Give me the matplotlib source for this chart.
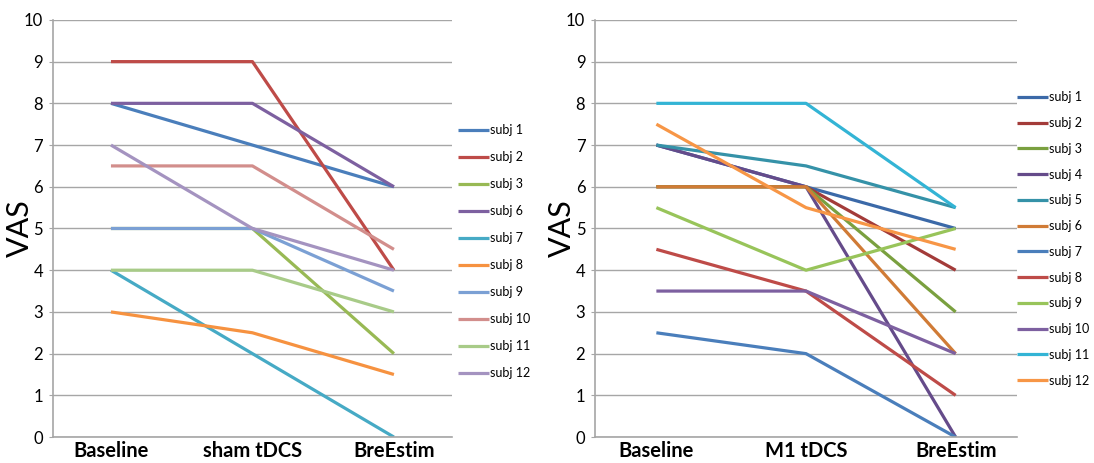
import numpy as np
import matplotlib
matplotlib.use("Agg")
import matplotlib.pyplot as plt

plt.rcParams["font.family"] = ["Lato", "DejaVu Sans"]

# ------
# Data
sham_sessions = ["Baseline", "sham tDCS", "BreEstim"]
sham_subjects = ["subj 1", "subj 2", "subj 3", "subj 6", "subj 7", "subj 8",
                 "subj 9", "subj 10", "subj 11", "subj 12"]
sham_vas = [
    [8, 7, 6],
    [9, 9, 4],
    [5, 5, 2],
    [8, 8, 6],
    [4, 2, 0],
    [3, 2.5, 1.5],
    [5, 5, 3.5],
    [6.5, 6.5, 4.5],
    [4, 4, 3],
    [7, 5, 4],
]
sham_colors = ["#4A7EBB", "#BE4B48", "#98B954", "#7D60A0", "#46AAC5", "#F69240",
               "#7BA0D4", "#D28E8C", "#A8CB88", "#A493C0"]

m1_sessions = ["Baseline", "M1 tDCS", "BreEstim"]
m1_subjects = ["subj %d" % i for i in range(1, 13)]
m1_vas = [
    [7, 6, 5],
    [6, 6, 4],
    [6, 6, 3],
    [7, 6, 0],
    [7, 6.5, 5.5],
    [6, 6, 2],
    [2.5, 2, 0],
    [4.5, 3.5, 1],
    [5.5, 4, 5],
    [3.5, 3.5, 2],
    [8, 8, 5.5],
    [7.5, 5.5, 4.5],
]
m1_colors = ["#3B69A8", "#A33B39", "#7AA03F", "#654B8A", "#3592A8", "#D07B36",
             "#4A7EBB", "#BE4B48", "#98C45A", "#7D60A0", "#33B4D5", "#F79646"]

GRID = "#A6A6A6"


def panel(ax, sessions, subjects, values, colors, legend_x, legend_y, spacing):
    """Draw one Excel-like line panel."""
    x = np.arange(len(sessions))
    for name, vals, col in zip(subjects, values, colors):
        ax.plot(x, vals, color=col, lw=2.3, label=name, solid_capstyle="butt")

    ax.set_xlim(-0.41, 2.41)
    ax.set_ylim(0, 10)
    ax.set_yticks(np.arange(0, 11, 1))
    ax.yaxis.grid(True, color=GRID, lw=1.0)
    ax.set_axisbelow(True)
    for side in ["top", "right"]:
        ax.spines[side].set_visible(False)
    for side in ["left", "bottom"]:
        ax.spines[side].set_color(GRID)
        ax.spines[side].set_linewidth(1.2)
    ax.tick_params(axis="y", length=3, color=GRID, labelsize=12, pad=4)
    ax.tick_params(axis="x", length=0, pad=3)
    ax.set_xticks(x)
    ax.set_xticklabels(sessions, fontsize=14.5, fontweight="bold")
    ax.set_ylabel("VAS", fontsize=22, labelpad=-7)

    ax.legend(loc="center left", bbox_to_anchor=(legend_x, legend_y), frameon=False,
              fontsize=9, handlelength=2.5, handletextpad=0.05,
              labelspacing=spacing, borderaxespad=0, borderpad=0)


# ------
# Build figure
fig = plt.figure(figsize=(10.94, 4.63), dpi=100)
ax1 = fig.add_axes([0.0484, 0.056, 0.3647, 0.901])
ax2 = fig.add_axes([0.5439, 0.056, 0.3857, 0.901])

panel(ax1, sham_sessions, sham_subjects, sham_vas, sham_colors, 1.015, 0.445, 1.2)
panel(ax2, m1_sessions, m1_subjects, m1_vas, m1_colors, 1.0, 0.475, 1.1)

fig.savefig("out.png", dpi=100)
